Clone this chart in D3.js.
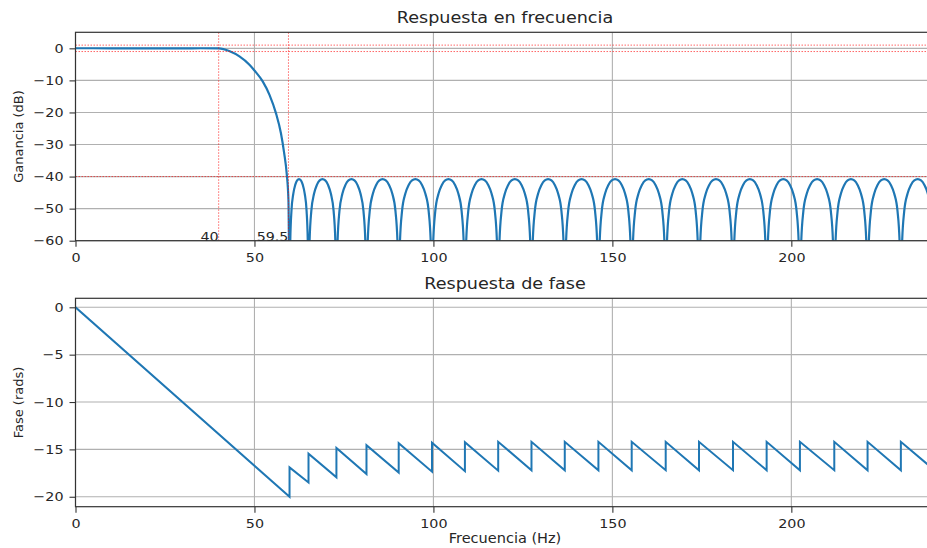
<!DOCTYPE html>
<html>
<head>
<meta charset="utf-8">
<script src="https://cdn.jsdelivr.net/npm/d3@7"></script>
<style>
body { margin: 0; background: #fff; }
svg { display: block; }
text { font-family: "DejaVu Sans", sans-serif; fill: #262626; }
</style>
</head>
<body>
<script>
var w = 927;
var h = 548;

// banda de paso y transicion
var passHz = [0, 5, 10, 15, 20, 25, 30, 35, 40, 43.1, 45.8, 48.6, 50, 52.3, 54.2, 56, 57.4, 58.3, 59, 59.5];
var passDb = [0.03, 0.02, 0, -0.02, -0.03, -0.02, 0, 0.02, 0, -0.9, -2.5, -5.1, -6.9, -10.3, -14.5, -20.2, -26.5, -32.7, -39, -47.5];

// ceros de la banda de rechazo y pico de cada lobulo
var nullsHz = [59.8, 65.1, 72.9, 81.3, 90.3, 99.6, 108.8, 118.1, 127.4, 136.7, 146.1, 155.4, 164.9, 174.2, 183.7, 193.1, 202.4, 212.0, 221.3, 230.6, 240.0];
var lobePeakDb = [-40.8, -40.8, -40.8, -40.8, -40.8, -40.8, -40.8, -40.8, -40.8, -40.8, -40.8, -40.8, -40.8, -40.8, -40.8, -40.8, -40.8, -40.8, -40.8, -40.8];
// forma de un lobulo (posicion relativa, dB respecto al pico)
var lobeT = [0, 0.04, 0.1, 0.2, 0.3, 0.4, 0.5, 0.6, 0.7, 0.8, 0.9, 0.96];
var lobeRel = [-34, -19, -10, -4.5, -1.8, -0.4, 0, -0.4, -1.8, -4.5, -10, -19];

// fase: valor antes y despues de cada salto
var phaseLow = [-20.0, -18.5, -17.95, -17.6, -17.45, -17.35, -17.3, -17.25, -17.2, -17.2, -17.2, -17.2, -17.2, -17.2, -17.2, -17.2, -17.2, -17.2, -17.2, -17.2, -17.2];
var phaseHigh = [-16.9, -15.45, -14.85, -14.55, -14.35, -14.3, -14.25, -14.2, -14.2, -14.2, -14.2, -14.2, -14.2, -14.2, -14.2, -14.2, -14.2, -14.2, -14.2, -14.2];

// lineas de especificacion
var specDb = [1, -1, -40];
var specHz = [40, 59.5];

var magTicks = [0, -10, -20, -30, -40, -50, -60];
var phaseTicks = [0, -5, -10, -15, -20];
var freqTicks = [0, 50, 100, 150, 200];

var blue = "#1f77b4";
var left = 75.5, right = 934.5;
var sx = 1.1;   // la figura original esta algo estirada a lo ancho

var mag = [];
passHz.forEach(function(f, i) { mag.push([f, passDb[i]]); });
lobePeakDb.forEach(function(p, i) {
    var a = nullsHz[i], b = nullsHz[i + 1];
    lobeT.forEach(function(t, k) { mag.push([a + t * (b - a), p + lobeRel[k]]); });
});
mag.push([nullsHz[nullsHz.length - 1], -75]);

var phase = [[0, 0]];
nullsHz.forEach(function(f, i) {
    phase.push([f, phaseLow[i]]);
    if (i < phaseHigh.length) phase.push([f, phaseHigh[i]]);
});

var svg = d3.select("body")
            .append("svg")
                .attr("width", w)
                .attr("height", h);

var x = d3.scaleLinear().domain([0, 240]).range([left, right]);

function label(parent, tx, ty, size, anchor, str) {
    return parent.append("text")
        .attr("transform", "translate(" + tx + "," + ty + ") scale(" + sx + ",1)")
        .attr("text-anchor", anchor)
        .style("font-size", size + "px")
        .text(str);
}

function panel(top, bottom, domain, ticks, id) {
    var y = d3.scaleLinear().domain(domain).range([bottom, top]);
    var g = svg.append("g");

    g.append("clipPath").attr("id", id)
        .append("rect")
        .attr("x", left).attr("y", top)
        .attr("width", right - left).attr("height", bottom - top);

    // rejilla
    g.append("g").selectAll("line").data(freqTicks).enter().append("line")
        .attr("x1", function(d) { return x(d); }).attr("x2", function(d) { return x(d); })
        .attr("y1", top).attr("y2", bottom)
        .attr("stroke", "#b0b0b0").attr("stroke-width", 1.1);
    g.append("g").selectAll("line").data(ticks).enter().append("line")
        .attr("x1", left).attr("x2", right)
        .attr("y1", function(d) { return y(d); }).attr("y2", function(d) { return y(d); })
        .attr("stroke", "#b0b0b0").attr("stroke-width", 1.1);

    var ax = g.append("g").attr("transform", "translate(0," + bottom + ")")
        .call(d3.axisBottom(x).tickValues(freqTicks).tickSize(6).tickPadding(6));
    var ay = g.append("g").attr("transform", "translate(" + left + ",0)")
        .call(d3.axisLeft(y).tickValues(ticks).tickSize(6).tickPadding(6));
    [ax, ay].forEach(function(a) {
        a.select(".domain").remove();
        a.selectAll("line").attr("stroke", "#333").attr("stroke-width", 1.1);
        a.selectAll("text").style("font-size", "13px").attr("fill", "#262626");
    });
    ax.selectAll("text").attr("transform", "scale(" + sx + ",1)");
    ay.selectAll("text").attr("x", -12 / sx).attr("transform", "scale(" + sx + ",1)");

    return {g: g, y: y, top: top, bottom: bottom, clip: "url(#" + id + ")"};
}

function frame(p) {
    p.g.append("rect")
        .attr("x", left).attr("y", p.top)
        .attr("width", right - left).attr("height", p.bottom - p.top)
        .attr("fill", "none").attr("stroke", "#333").attr("stroke-width", 1.2);
}

// ---- respuesta en frecuencia ----
var p1 = panel(32.3, 240.7, [-60, 5], magTicks, "c1");

p1.g.append("path")
    .datum(mag)
    .attr("clip-path", p1.clip)
    .attr("fill", "none")
    .attr("stroke", blue)
    .attr("stroke-width", 2.2)
    .attr("d", d3.line()
        .x(function(d) { return x(d[0]); })
        .y(function(d) { return p1.y(d[1]); })
        .curve(d3.curveMonotoneX));

p1.g.append("g").selectAll("line").data(specDb).enter().append("line")
    .attr("x1", left).attr("x2", right)
    .attr("y1", function(d) { return p1.y(d); }).attr("y2", function(d) { return p1.y(d); })
    .attr("stroke", "red").attr("stroke-opacity", 0.6)
    .attr("stroke-width", 1).attr("stroke-dasharray", "1.5,1.5");
p1.g.append("g").selectAll("line").data(specHz).enter().append("line")
    .attr("x1", function(d) { return x(d); }).attr("x2", function(d) { return x(d); })
    .attr("y1", p1.top).attr("y2", p1.bottom)
    .attr("stroke", "red").attr("stroke-opacity", 0.6)
    .attr("stroke-width", 1).attr("stroke-dasharray", "1.5,1.5");

specHz.forEach(function(d) {
    label(p1.g, x(d), p1.y(-60), 13, "end", d);
});

frame(p1);

label(svg, (left + right) / 2, 23, 16, "middle", "Respuesta en frecuencia");
svg.append("text")
    .attr("transform", "translate(23," + (32.3 + 240.7) / 2 + ") rotate(-90)")
    .attr("text-anchor", "middle").style("font-size", "13px")
    .text("Ganancia (dB)");

// ---- respuesta de fase ----
var p2 = panel(298.3, 506.7, [-21.05, 0.95], phaseTicks, "c2");

p2.g.append("path")
    .datum(phase)
    .attr("clip-path", p2.clip)
    .attr("fill", "none")
    .attr("stroke", blue)
    .attr("stroke-width", 2)
    .attr("d", d3.line()
        .x(function(d) { return x(d[0]); })
        .y(function(d) { return p2.y(d[1]); }));

frame(p2);

label(svg, (left + right) / 2, 289, 16, "middle", "Respuesta de fase");
svg.append("text")
    .attr("transform", "translate(23," + (298.3 + 506.7) / 2 + ") rotate(-90)")
    .attr("text-anchor", "middle").style("font-size", "13px")
    .text("Fase (rads)");
label(svg, (left + right) / 2, 543, 13.2, "middle", "Frecuencia (Hz)");
</script>
</body>
</html>
